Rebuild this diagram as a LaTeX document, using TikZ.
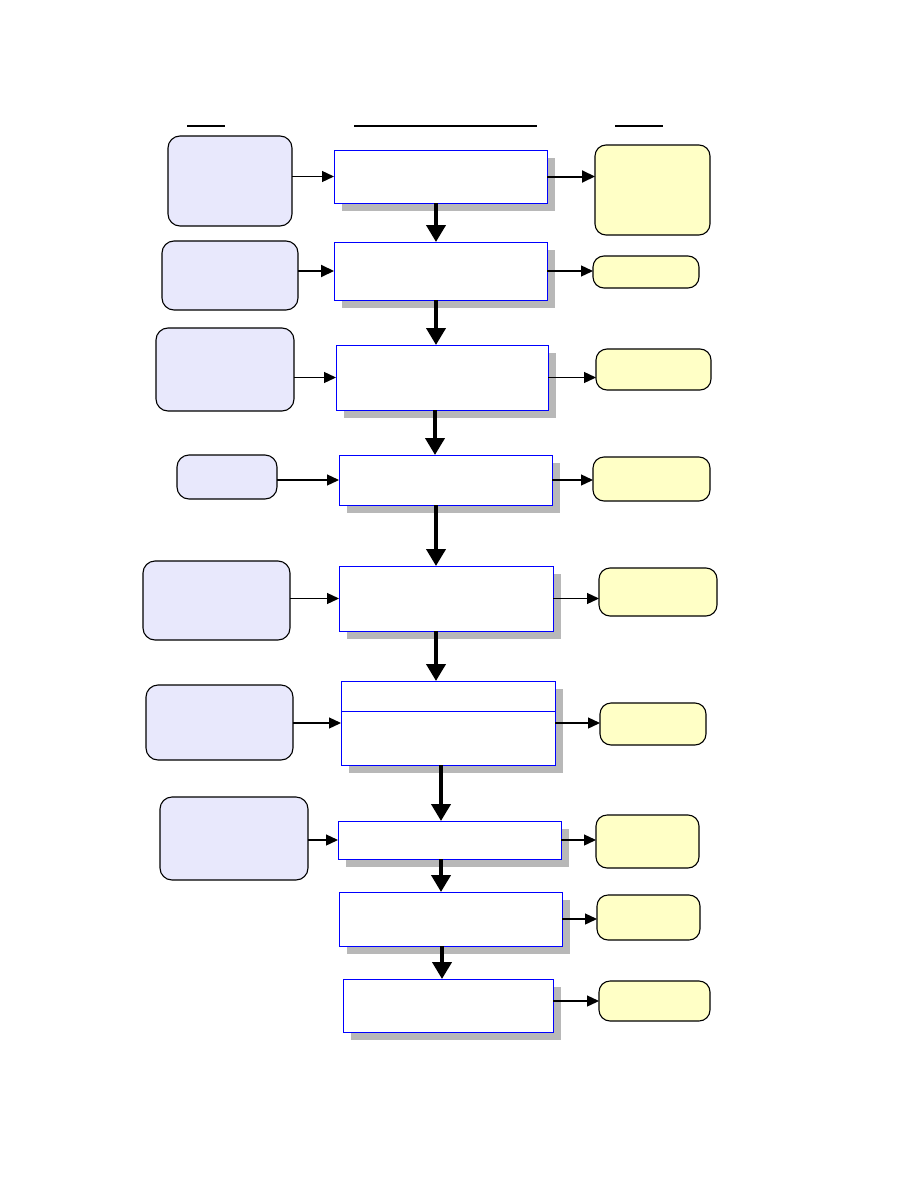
\documentclass[tikz,border=0pt]{standalone}
\usetikzlibrary{arrows.meta,shadows}
\definecolor{lav}{HTML}{E8E8FC}
\definecolor{yel}{HTML}{FFFFC6}
\definecolor{shd}{HTML}{B8B8B8}
\definecolor{bl}{HTML}{0000FF}
\tikzset{
  cbox/.style={draw=bl, line width=0.9pt, fill=white, inner sep=0pt, outer sep=0pt,
    drop shadow={shadow xshift=8pt, shadow yshift=-8pt, fill=shd, opacity=1}},
  lbox/.style={draw=black, line width=1.1pt, fill=lav, rounded corners=12pt, inner sep=0pt, outer sep=0pt},
  rbox/.style={draw=black, line width=1.1pt, fill=yel, rounded corners=11pt, inner sep=0pt, outer sep=0pt},
  thin arr/.style={line width=1.3pt, -{Triangle[length=12pt,width=11pt]}},
  mid arr/.style={line width=2pt, -{Triangle[length=13pt,width=12pt]}},
  big arr/.style={line width=4pt, -{Triangle[length=17pt,width=19pt]}},
}
\newcommand{\bx}[6]{\node[#1, minimum width=#5pt, minimum height=#6pt] (#2) at (#3,#4) {};}
\begin{document}
\begin{tikzpicture}[x=1pt,y=-1pt]
\useasboundingbox (0,0) rectangle (918,1188);
% headers
\draw[line width=2pt] (187,126) -- (225,126);
\draw[line width=2pt] (354,126) -- (537,126);
\draw[line width=2pt] (615,126) -- (663,126);
% center boxes
\bx{cbox}{c1}{440.5}{176.5}{213}{53}
\bx{cbox}{c2}{440.5}{271}{213}{58}
\bx{cbox}{c3}{442}{377.5}{212}{65}
\bx{cbox}{c4}{445.5}{480}{213}{50}
\bx{cbox}{c5}{446}{598.5}{214}{65}
\bx{cbox}{c6}{448}{723}{214}{84}
\bx{cbox}{c7}{449.5}{840}{223}{38}
\bx{cbox}{c8}{450.5}{919}{223}{54}
\bx{cbox}{c9}{448}{1005.5}{210}{53}
\draw[draw=bl, line width=0.9pt] (c6.west |- 0,711) -- (c6.east |- 0,711);
% left boxes
\bx{lbox}{l1}{230}{181}{124}{90}
\bx{lbox}{l2}{230}{275.5}{136}{69}
\bx{lbox}{l3}{225}{369.5}{138}{83}
\bx{lbox}{l4}{227}{477}{100}{44}
\bx{lbox}{l5}{216.5}{600.5}{147}{79}
\bx{lbox}{l6}{219.5}{722.5}{147}{75}
\bx{lbox}{l7}{234}{838.5}{148}{83}
% right boxes
\bx{rbox}{r1}{652.5}{190}{115}{90}
\bx{rbox}{r2}{646}{272}{106}{32}
\bx{rbox}{r3}{653.5}{369.5}{115}{41}
\bx{rbox}{r4}{651.5}{479}{117}{44}
\bx{rbox}{r5}{658}{592}{118}{48}
\bx{rbox}{r6}{653}{724}{106}{42}
\bx{rbox}{r7}{647.5}{841.5}{103}{53}
\bx{rbox}{r8}{648.5}{917.5}{103}{45}
\bx{rbox}{r9}{654.5}{1001}{111}{40}
% left to center
\draw[thin arr] (l1.east |- c1.west) -- (c1.west);
\draw[mid arr] (l2.east |- c2.west) -- (c2.west);
\draw[thin arr] (l3.east |- c3.west) -- (c3.west);
\draw[thin arr] (l4.east |- c4.west) -- (c4.west);
\draw[thin arr] (l5.east |- c5.west) -- (c5.west);
\draw[thin arr] (l6.east |- c6.west) -- (c6.west);
\draw[thin arr] (l7.east |- c7.west) -- (c7.west);
% center to right
\draw[mid arr] (c1.east) -- (c1.east -| r1.west);
\draw[thin arr] (c2.east) -- (c2.east -| r2.west);
\draw[thin arr] (c3.east) -- (c3.east -| r3.west);
\draw[thin arr] (c4.east) -- (c4.east -| r4.west);
\draw[thin arr] (c5.east) -- (c5.east -| r5.west);
\draw[thin arr] (c6.east) -- (c6.east -| r6.west);
\draw[thin arr] (c7.east) -- (c7.east -| r7.west);
\draw[thin arr] (c8.east) -- (c8.east -| r8.west);
\draw[thin arr] (c9.east |- r9.west) -- (r9.west);
% down
\draw[big arr] ([xshift=-4.5pt]c1.south) -- ([xshift=-4.5pt]c1.south |- c2.north);
\draw[big arr] ([xshift=-4.5pt]c2.south) -- ([xshift=-4.5pt]c2.south |- c3.north);
\draw[big arr] ([xshift=-7pt]c3.south) -- ([xshift=-7pt]c3.south |- c4.north);
\draw[big arr] ([xshift=-9.5pt]c4.south) -- ([xshift=-9.5pt]c4.south |- c5.north);
\draw[big arr] ([xshift=-10pt]c5.south) -- ([xshift=-10pt]c5.south |- c6.north);
\draw[big arr] ([xshift=-7pt]c6.south) -- ([xshift=-7pt]c6.south |- c7.north);
\draw[big arr] ([xshift=-8.5pt]c7.south) -- ([xshift=-8.5pt]c7.south |- c8.north);
\draw[big arr] ([xshift=-8.5pt]c8.south) -- ([xshift=-8.5pt]c8.south |- c9.north);
\end{tikzpicture}
\end{document}
